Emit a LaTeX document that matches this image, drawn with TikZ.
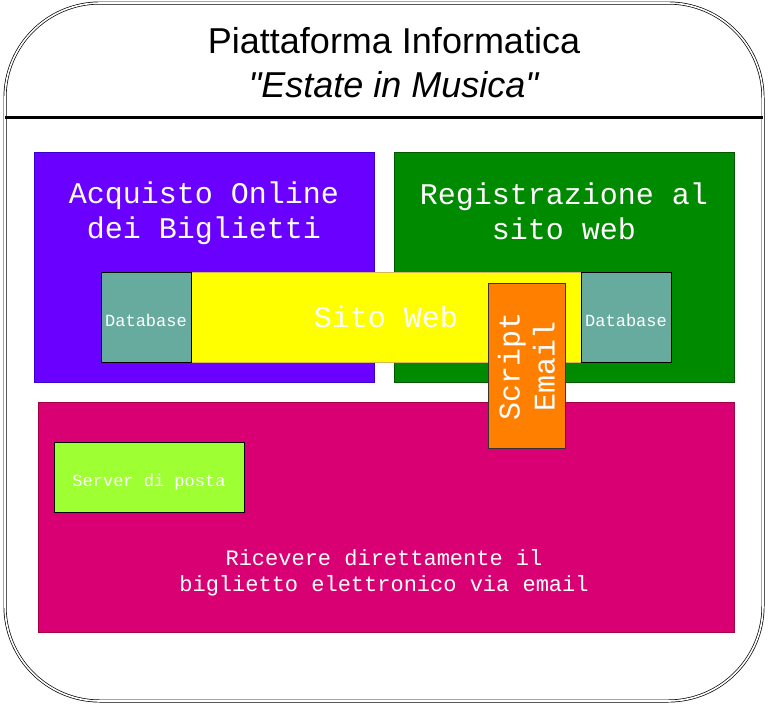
\documentclass[tikz,border=0pt]{standalone}
\usepackage{fontspec}
\setmainfont{Liberation Sans}
\newfontfamily\monofont{Liberation Mono}
\definecolor{cpurple}{HTML}{6A00FF}
\definecolor{cpurpleb}{HTML}{3700CC}
\definecolor{cgreen}{HTML}{008A00}
\definecolor{cgreenb}{HTML}{005700}
\definecolor{cmag}{HTML}{D80073}
\definecolor{cmagb}{HTML}{A50040}
\definecolor{cyel}{HTML}{FFFF00}
\definecolor{cyelb}{HTML}{D6B656}
\definecolor{cteal}{HTML}{67AB9F}
\definecolor{corange}{HTML}{FF8000}
\definecolor{clime}{HTML}{9EFF33}
\begin{document}
\begin{tikzpicture}[x=1pt,y=-1pt,
  box/.style={draw, rectangle, inner sep=0pt, text=white, align=center, line width=0.8pt},
  bigtxt/.style={font=\monofont\fontsize{30}{35}\selectfont},
  smalltxt/.style={font=\monofont\fontsize{17}{20}\selectfont, text depth=0pt, text height=18pt}]
\useasboundingbox (0,0) rectangle (768,705);
% outer frame
\draw[line width=0.7pt, double=white, double distance=1.6pt, rounded corners=95pt] (5,3) rectangle (763,701);
\coordinate (hl) at (5,117);
\coordinate (hr) at (763,117);
\draw[line width=3pt] (hl) -- (hr);
\node[font=\fontsize{36}{44}\selectfont, align=center] (title) at (394,63) {Piattaforma Informatica\\\textit{\textquotedbl Estate in Musica\textquotedbl}};
% main boxes
\node[box, fill=cpurple, draw=cpurpleb, minimum width=340pt, minimum height=230pt] (acq) at (204,267) {};
\node[bigtxt, text=white, align=center] (acqt) at (204,213) {Acquisto Online\\dei Biglietti};
\node[box, fill=cgreen, draw=cgreenb, minimum width=340pt, minimum height=230pt] (reg) at (564,267) {};
\node[bigtxt, text=white, align=center] (regt) at (564,211) {Registrazione al\\sito web};
\node[box, fill=cmag, draw=cmagb, minimum width=696pt, minimum height=230pt] (ric) at (386,517) {};
\node[font=\monofont\fontsize{22}{26}\selectfont, text=white, align=center] (rict) at (384,573) {Ricevere direttamente il\\biglietto elettronico via email};
\node[box, fill=clime, draw=black, minimum width=190pt, minimum height=70pt, smalltxt] (srv) at (149,477) {Server di posta};
% site
\node[box, fill=cyel, draw=cyelb, minimum width=390pt, minimum height=90pt, bigtxt] (sito) at (386,317) {Sito Web};
\node[box, fill=cteal, draw=black, minimum width=90pt, minimum height=90pt, smalltxt] (db1) at (146,317) {Database};
\node[box, fill=cteal, draw=black, minimum width=90pt, minimum height=90pt, smalltxt] (db2) at (626,317) {Database};
\node[box, fill=corange, draw=black!80, minimum width=77pt, minimum height=165pt] (scr) at (526.5,365.5) {};
\node[bigtxt, text=white, align=center, rotate=90] (scrt) at (526.5,366) {Script\\Email};
\end{tikzpicture}
\end{document}
